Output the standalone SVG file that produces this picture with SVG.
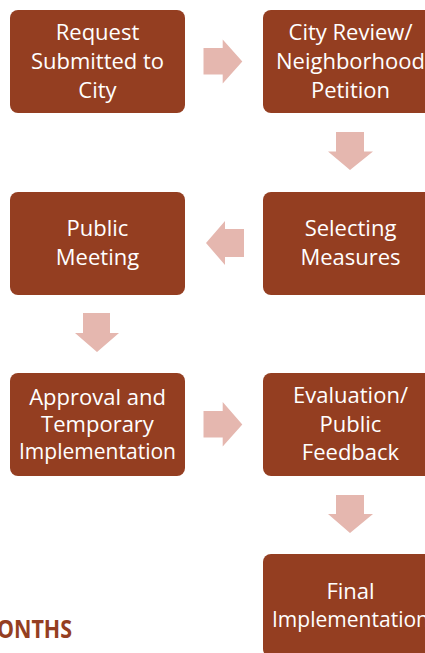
<svg xmlns="http://www.w3.org/2000/svg" width="425" height="653" viewBox="0 0 425 653">
<style>
.box{fill:#943e21;}
.lbl{font-family:"Open Sans","DejaVu Sans",sans-serif;font-size:22px;fill:#ffffff;text-anchor:middle;}
.arr{fill:#e5b7af;}
.big{font-family:"Open Sans","DejaVu Sans",sans-serif;font-size:25px;font-weight:bold;fill:#943e21;}
</style>
<rect width="425" height="653" fill="#ffffff"/>
<g id="connectors">
<polygon class="arr" points="203.5,48 222.7,48 222.7,39.5 242.3,61.5 222.7,83.5 222.7,74.5 203.5,74.5"/>
<polygon class="arr" points="336,132 364,132 364,151.5 373,151.5 350,170 328,151.5 336,151.5"/>
<polygon class="arr" points="244,229 225,229 225,221 206,243 225,265 225,257 244,257"/>
<polygon class="arr" points="83,313 110,313 110,333 119,333 97,352 75,333 83,333"/>
<polygon class="arr" points="203.5,411 222.7,411 222.7,402 242.3,424.5 222.7,446.5 222.7,437.5 203.5,437.5"/>
<polygon class="arr" points="336,495 364,495 364,514 373,514 350,533 328,514 336,514"/>
</g>
<g id="n1"><rect class="box" x="10" y="10" width="175" height="103" rx="8"/>
<text class="lbl"><tspan x="97.5" y="40">Request</tspan><tspan x="97.5" y="69">Submitted to</tspan><tspan x="97.5" y="98">City</tspan></text></g>
<g id="n2"><rect class="box" x="263" y="10" width="175" height="103" rx="8"/>
<text class="lbl"><tspan x="350.5" y="40">City Review/</tspan><tspan x="350.5" y="69">Neighborhood</tspan><tspan x="350.5" y="98">Petition</tspan></text></g>
<g id="n3"><rect class="box" x="263" y="192" width="175" height="103" rx="8"/>
<text class="lbl"><tspan x="350.5" y="236">Selecting</tspan><tspan x="350.5" y="265">Measures</tspan></text></g>
<g id="n4"><rect class="box" x="10" y="192" width="175" height="103" rx="8"/>
<text class="lbl"><tspan x="97.5" y="236">Public</tspan><tspan x="97.5" y="265">Meeting</tspan></text></g>
<g id="n5"><rect class="box" x="10" y="373" width="175" height="103" rx="8"/>
<text class="lbl"><tspan x="97.5" y="405">Approval and</tspan><tspan x="97.5" y="432">Temporary</tspan></text>
<text class="lbl" x="97.5" y="459" textLength="157" lengthAdjust="spacingAndGlyphs">Implementation</text></g>
<g id="n6"><rect class="box" x="263" y="373" width="175" height="103" rx="8"/>
<text class="lbl"><tspan x="350.5" y="403">Evaluation/</tspan><tspan x="350.5" y="432">Public</tspan><tspan x="350.5" y="460">Feedback</tspan></text></g>
<g id="n7"><rect class="box" x="263" y="554" width="175" height="103" rx="8"/>
<text class="lbl" x="350.5" y="599">Final</text>
<text class="lbl" x="350.5" y="627" textLength="157" lengthAdjust="spacingAndGlyphs">Implementation</text></g>
<text class="big" x="-3" y="638" textLength="75" lengthAdjust="spacingAndGlyphs">ONTHS</text>
</svg>
